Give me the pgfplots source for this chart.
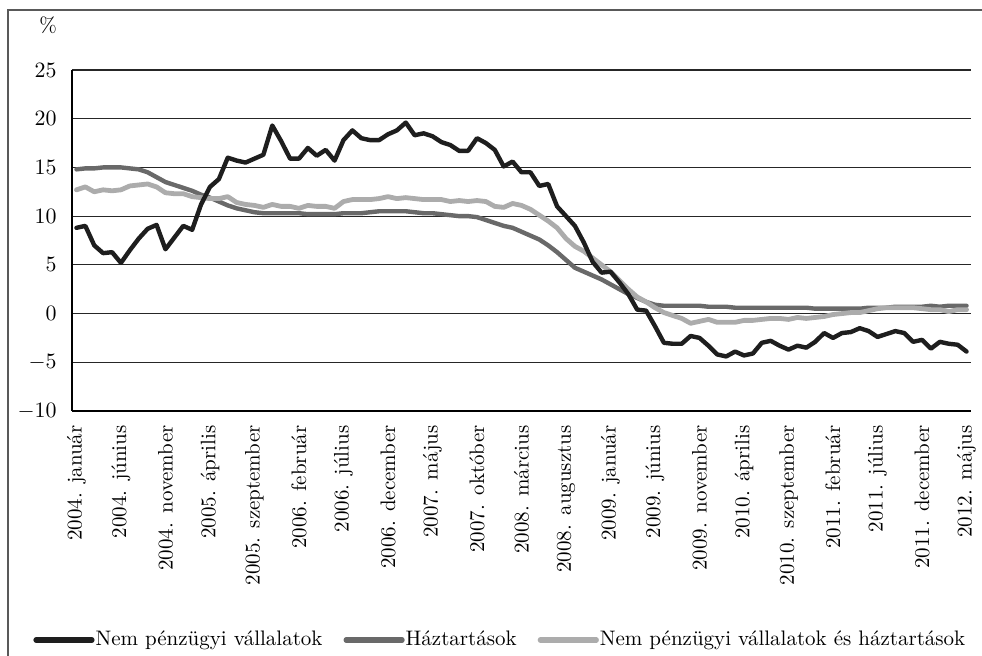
\documentclass[border=0pt]{standalone}
\usepackage{fontspec}
\usepackage{pgfplots}
\usepackage{pgfplotstable}
\pgfplotsset{compat=1.18}
\definecolor{cBlack}{RGB}{30,30,30}
\definecolor{cDark}{RGB}{105,105,105}
\definecolor{cLight}{RGB}{172,172,172}
\pgfplotstableread{
i b h c
0 8.8 14.8 12.7
1 9.0 14.9 13.0
2 7.0 14.9 12.5
3 6.2 15.0 12.7
4 6.3 15.0 12.6
5 5.2 15.0 12.7
6 6.5 14.9 13.1
7 7.7 14.8 13.2
8 8.7 14.5 13.3
9 9.1 14.0 13.0
10 6.6 13.5 12.4
11 7.8 13.2 12.3
12 9.0 12.9 12.3
13 8.6 12.6 12.0
14 11.2 12.2 11.9
15 13.0 11.9 11.8
16 13.8 11.5 11.8
17 16.0 11.1 12.0
18 15.7 10.8 11.4
19 15.5 10.6 11.2
20 15.9 10.4 11.1
21 16.3 10.3 10.9
22 19.3 10.3 11.2
23 17.7 10.3 11.0
24 15.9 10.3 11.0
25 15.9 10.3 10.8
26 17.0 10.2 11.1
27 16.2 10.2 11.0
28 16.8 10.2 11.0
29 15.7 10.2 10.8
30 17.8 10.3 11.5
31 18.8 10.3 11.7
32 18.0 10.3 11.7
33 17.8 10.4 11.7
34 17.8 10.5 11.8
35 18.4 10.5 12.0
36 18.8 10.5 11.8
37 19.6 10.5 11.9
38 18.3 10.4 11.8
39 18.5 10.3 11.7
40 18.2 10.3 11.7
41 17.6 10.2 11.7
42 17.3 10.1 11.5
43 16.7 10.0 11.6
44 16.7 10.0 11.5
45 18.0 9.9 11.6
46 17.5 9.6 11.5
47 16.8 9.3 11.0
48 15.1 9.0 10.9
49 15.6 8.8 11.3
50 14.5 8.4 11.1
51 14.5 8.0 10.7
52 13.1 7.6 10.1
53 13.3 7.0 9.5
54 11.0 6.3 8.8
55 10.0 5.5 7.7
56 9.0 4.7 6.9
57 7.3 4.3 6.4
58 5.3 3.9 5.7
59 4.2 3.5 5.0
60 4.3 3.0 4.3
61 3.2 2.5 3.4
62 2.0 2.0 2.5
63 0.4 1.6 1.7
64 0.3 1.2 1.2
65 -1.3 0.9 0.6
66 -3.0 0.8 0.1
67 -3.1 0.8 -0.2
68 -3.1 0.8 -0.5
69 -2.3 0.8 -1.0
70 -2.5 0.8 -0.8
71 -3.3 0.7 -0.6
72 -4.2 0.7 -0.9
73 -4.4 0.7 -0.9
74 -3.9 0.6 -0.9
75 -4.3 0.6 -0.7
76 -4.1 0.6 -0.7
77 -3.0 0.6 -0.6
78 -2.8 0.6 -0.5
79 -3.3 0.6 -0.5
80 -3.7 0.6 -0.6
81 -3.3 0.6 -0.4
82 -3.5 0.6 -0.5
83 -2.9 0.5 -0.4
84 -2.0 0.5 -0.3
85 -2.5 0.5 -0.1
86 -2.0 0.5 0.0
87 -1.9 0.5 0.1
88 -1.5 0.5 0.1
89 -1.8 0.6 0.3
90 -2.4 0.6 0.5
91 -2.1 0.6 0.6
92 -1.8 0.7 0.6
93 -2.0 0.7 0.6
94 -2.9 0.7 0.6
95 -2.7 0.7 0.5
96 -3.6 0.8 0.4
97 -2.9 0.7 0.4
98 -3.1 0.8 0.2
99 -3.2 0.8 0.4
100 -3.9 0.8 0.4
}\datatable
\begin{document}
\begin{tikzpicture}
\useasboundingbox (-36pt,-122.5pt) rectangle (455pt,205.5pt);
\draw[line width=1pt, black!65] (-32pt,-200pt) -- (-32pt,200.5pt) -- (600pt,200.5pt);
\begin{axis}[
  name=ax,
  at={(0,0)}, anchor=south west,
  scale only axis,
  width=449.5pt, height=170.5pt,
  xmin=-0.5, xmax=100.5,
  ymin=-10, ymax=25,
  ytick={-10,-5,...,25},
  xtick={0,5,...,100},
  xticklabels={2004. január,2004. június,2004. november,2005. április,2005. szeptember,2006. február,2006. július,2006. december,2007. május,2007. október,2008. március,2008. augusztus,2009. január,2009. június,2009. november,2010. április,2010. szeptember,2011. február,2011. július,2011. december,2012. május},
  axis lines*=left,
  axis line style={-, black, line width=0.6pt},
  major tick length=0pt,
  ymajorgrids,
  grid style={black!85, line width=0.6pt},
  tick label style={font=\fontsize{10.5}{12}\selectfont},
  yticklabel style={anchor=east, inner sep=0pt, xshift=-7.5pt},
  xticklabel style={rotate=90, anchor=east, inner sep=0pt},
  xticklabel shift=7pt,
  legend columns=3,
  legend style={at={(-0.0434,-0.6716)}, anchor=west, draw=none, fill=none,
    font=\fontsize{10.5}{12}\selectfont, inner sep=0pt,
    nodes={inner sep=0.5pt},
    /tikz/every even column/.append style={column sep=10pt}},
  legend image code/.code={\draw[#1, line width=2.6pt] (0pt,0pt) -- (28pt,0pt);},
  every axis plot/.append style={line join=round, line cap=round},
]
\addlegendimage{cBlack}
\addlegendentry{Nem pénzügyi vállalatok}
\addlegendimage{cDark}
\addlegendentry{Háztartások}
\addlegendimage{cLight}
\addlegendentry{Nem pénzügyi vállalatok és háztartások}
\addplot[cDark, line width=2.2pt, forget plot] table[x=i, y=h] {\datatable};
\addplot[cLight, line width=2.4pt, forget plot] table[x=i, y=c] {\datatable};
\addplot[cBlack, line width=2.2pt, forget plot] table[x=i, y=b] {\datatable};
\end{axis}
\node[font=\fontsize{10.5}{12}\selectfont] at ([xshift=-12pt,yshift=22.5pt]ax.north west) {\%};
\end{tikzpicture}
\end{document}
